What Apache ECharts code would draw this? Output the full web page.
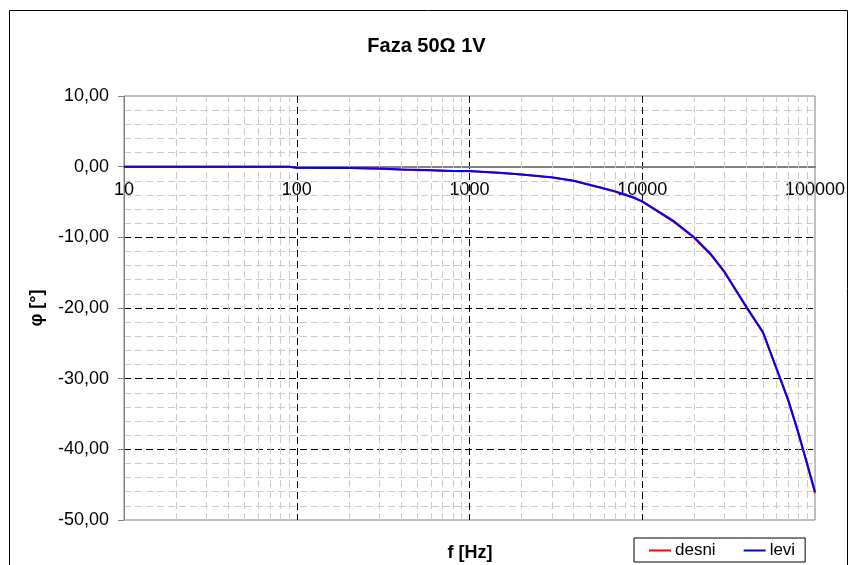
<!DOCTYPE html>
<html><head><meta charset="utf-8">
<script src="https://cdn.jsdelivr.net/npm/echarts@6/dist/echarts.min.js"></script>
<style>html,body{margin:0;padding:0;background:#fff}#c{width:853px;height:565px}</style>
</head><body><div id="c"></div>
<script>
const freqs = [10,20,30,40,50,60,70,80,90,100,200,300,400,500,600,700,800,900,1000,1500,2000,3000,4000,5000,6000,7000,8000,9000,10000,15000,20000,25000,30000,40000,50000,60000,70000,80000,90000,100000];
const levi  = [0,0,0,0,0,0,0,0,0,-0.15,-0.2,-0.25,-0.4,-0.45,-0.5,-0.55,-0.6,-0.6,-0.6,-0.85,-1.1,-1.5,-2.0,-2.6,-3.1,-3.5,-4.0,-4.4,-4.9,-7.6,-10.0,-12.4,-14.9,-19.8,-23.4,-28.6,-33.0,-37.6,-42.0,-46.0];
const desni = [0,0,0,0,0,0,0,0,0,-0.15,-0.2,-0.3,-0.4,-0.5,-0.5,-0.6,-0.6,-0.65,-0.65,-0.9,-1.1,-1.55,-2.0,-2.6,-3.1,-3.55,-4.0,-4.45,-4.95,-7.7,-10.1,-12.5,-15.0,-19.9,-23.5,-28.7,-33.1,-37.7,-42.1,-46.2];
const yTicks = [-50,-40,-30,-20,-10,0,10];
const xDecades = [10,100,1000,10000,100000];

const minorX = [];
for (let i = 0; i < xDecades.length - 1; i++) for (let m = 2; m <= 9; m++) minorX.push(xDecades[i] * m);

const FONT = '"Liberation Sans", Arial, sans-serif';
const GRID_TOP = 96, GRID_BOTTOM = 45, H = 565;
const plotH = H - GRID_TOP - GRID_BOTTOM;
const yMin = yTicks[0], yMax = yTicks[yTicks.length - 1];
const zeroOffset = -plotH * (0 - yMin) / (yMax - yMin);

const chart = echarts.init(document.getElementById('c'));
chart.setOption({
  animation: false,
  backgroundColor: '#fff',
  title: { text: 'Faza 50Ω 1V', left: 'center', top: 31, textStyle: { fontFamily: FONT, fontWeight: 'bold', fontSize: 20, color: '#000' } },
  grid: { left: 124, right: 38, top: GRID_TOP, bottom: GRID_BOTTOM, show: true, borderColor: '#808080', borderWidth: 1, backgroundColor: 'transparent' },
  legend: {
    left: 634, top: 538, orient: 'horizontal',
    borderColor: '#000', borderWidth: 1, padding: [4, 10, 3, 15],
    itemWidth: 22, itemHeight: 2, itemGap: 28, icon: 'rect',
    textStyle: { fontFamily: FONT, fontSize: 17, color: '#000', padding: [0, 0, 0, -1] },
    data: ['desni', 'levi']
  },
  xAxis: {
    type: 'log', logBase: 10, min: xDecades[0], max: xDecades[xDecades.length - 1],
    position: 'bottom', offset: zeroOffset,
    axisLine: { onZero: false, lineStyle: { color: '#808080', width: 2 } },
    axisTick: { show: false },
    axisLabel: { fontFamily: FONT, fontSize: 18, color: '#000', margin: 14, showMinLabel: true, showMaxLabel: true, formatter: v => String(v) },
    splitLine: { show: true, showMinLine: false, showMaxLine: false, lineStyle: { color: '#000', type: [7, 4], width: 1 } }
  },
  yAxis: {
    type: 'value', min: yMin, max: yMax, interval: 10,
    axisLine: { show: true, onZero: false, lineStyle: { color: '#808080', width: 1 } },
    axisTick: { show: true, length: 6, lineStyle: { color: '#808080' } },
    axisLabel: { fontFamily: FONT, fontSize: 18, color: '#000', margin: 15, formatter: v => v.toFixed(2).replace('.', ',') },
    splitLine: { show: true, showMinLine: false, showMaxLine: false, lineStyle: { color: '#000', type: [7, 4], width: 1 } },
    minorTick: { show: false, splitNumber: 5 },
    minorSplitLine: { show: true, lineStyle: { color: '#cccccc', type: [7, 4], width: 1 } }
  },
  graphic: [
    { type: 'rect', shape: { x: 9.5, y: 10.5, width: 838, height: 570 }, style: { fill: 'none', stroke: '#000', lineWidth: 1 }, z: 100 },
    { type: 'text', x: 470, y: 553, style: { text: 'f [Hz]', font: 'bold 18px ' + FONT, fill: '#000', align: 'center', verticalAlign: 'middle' } },
    { type: 'text', x: 37, y: 308, rotation: Math.PI / 2, style: { text: 'φ [°]', font: 'bold 18px ' + FONT, fill: '#000', align: 'center', verticalAlign: 'middle' } }
  ],
  series: [
    {
      name: 'desni', type: 'line', symbol: 'none', z: 3,
      lineStyle: { color: '#ff0000', width: 2 }, itemStyle: { color: '#ff0000' },
      data: freqs.map((f, i) => [f, desni[i]]),
      markLine: {
        silent: true, symbol: 'none', z: 1, label: { show: false }, animation: false,
        lineStyle: { color: '#cccccc', type: [7, 4], width: 1 },
        data: minorX.map(v => ({ xAxis: v }))
      }
    },
    {
      name: 'levi', type: 'line', symbol: 'none', z: 4,
      lineStyle: { color: '#0000ff', width: 2 }, itemStyle: { color: '#0000ff' },
      data: freqs.map((f, i) => [f, levi[i]])
    }
  ]
});
</script></body></html>
